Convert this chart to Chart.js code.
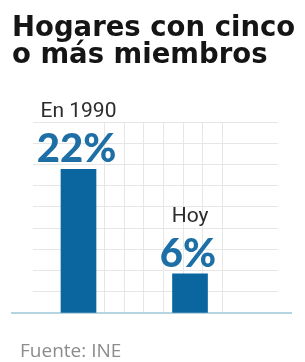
<!DOCTYPE html>
<html>
<head>
<meta charset="utf-8">
<script src="https://cdn.jsdelivr.net/npm/chart.js@4/dist/chart.umd.min.js"></script>
<style>
  html, body { margin: 0; padding: 0; background: #fff; }
  #wrap { position: relative; width: 305px; height: 362px; overflow: hidden; }
  #chart { position: absolute; left: 0; top: 0; }
  .title {
    position: absolute; left: 12px; top: 13px;
    font-family: "DejaVu Sans", sans-serif; font-weight: bold;
    font-size: 27.5px; line-height: 27px; color: #151515;
    white-space: nowrap;
  }
  .source {
    position: absolute; left: 20px; top: 341px;
    font-family: "Open Sans", sans-serif; font-size: 19px; line-height: 19px;
    color: #8c8c8c; white-space: nowrap;
  }
</style>
</head>
<body>
<div id="wrap">
  <canvas id="chart" width="305" height="362"></canvas>
  <div class="title">Hogares con cinco<br>o más miembros</div>
  <div class="source">Fuente: INE</div>
</div>
<script>
// data
const categories = ['En 1990', 'Hoy']
const values = [22, 6]
const valueLabels = ['22%', '6%']

const barColor = '#0b66a0'
const gridColor = '#e6e6e6'

// baseline under the bars, a bit wider than the grid
const baseLine = {
    id: 'baseLine',
    beforeDatasetsDraw(chart) {
        const ctx = chart.ctx
        const y = chart.scales.y.getPixelForValue(0)
        ctx.save()
        ctx.strokeStyle = '#b5d6e0'
        ctx.lineWidth = 2
        ctx.beginPath()
        ctx.moveTo(chart.chartArea.left - 22, y)
        ctx.lineTo(chart.chartArea.right + 14, y)
        ctx.stroke()
        ctx.restore()
    }
}

// category and value written above each bar
const barLabels = {
    id: 'barLabels',
    afterDatasetsDraw(chart) {
        const ctx = chart.ctx
        const bars = chart.getDatasetMeta(0).data
        ctx.save()
        ctx.textAlign = 'center'
        ctx.textBaseline = 'alphabetic'
        bars.forEach((bar, i) => {
            ctx.fillStyle = '#1d6fa6'
            ctx.font = '900 40px Lato'
            ctx.fillText(valueLabels[i], bar.x - 2, bar.y - 7)
            ctx.fillStyle = '#2b2b2b'
            ctx.font = '21px Roboto'
            ctx.fillText(categories[i], bar.x, bar.y - 52)
        })
        ctx.restore()
    }
}

const ctx = document.getElementById('chart').getContext('2d')
const myChart = new Chart(ctx, {
    type: 'bar',
    data: {
        datasets: [{
            data: categories.map((c, i) => ({ x: i, y: values[i] })),
            backgroundColor: barColor,
            barThickness: 35,
            borderWidth: 0
        }]
    },
    options: {
        responsive: false,
        animation: false,
        events: [],
        layout: { padding: { left: 33, right: 27, top: 122, bottom: 49 } },
        plugins: {
            legend: { display: false },
            tooltip: { enabled: false },
            title: { display: false }
        },
        scales: {
            x: {
                type: 'linear',
                display: false,
                offset: false,
                min: -0.408,
                max: 1.789
            },
            gx: {
                type: 'linear',
                position: 'bottom',
                min: -0.55,
                max: 10.74,
                ticks: { display: false, stepSize: 1, includeBounds: false },
                border: { display: false },
                grid: {
                    drawTicks: false,
                    color: (c) => (c.tick && c.tick.value >= 3 && c.tick.value <= 9) ? gridColor : 'rgba(0,0,0,0)'
                }
            },
            y: {
                min: 0,
                max: 29.25,
                ticks: { display: false, stepSize: 3.25 },
                border: { display: false },
                grid: {
                    drawTicks: false,
                    color: (c) => (c.tick && c.tick.value > 0) ? gridColor : 'rgba(0,0,0,0)'
                }
            }
        }
    },
    plugins: [baseLine, barLabels]
})
</script>
</body>
</html>
